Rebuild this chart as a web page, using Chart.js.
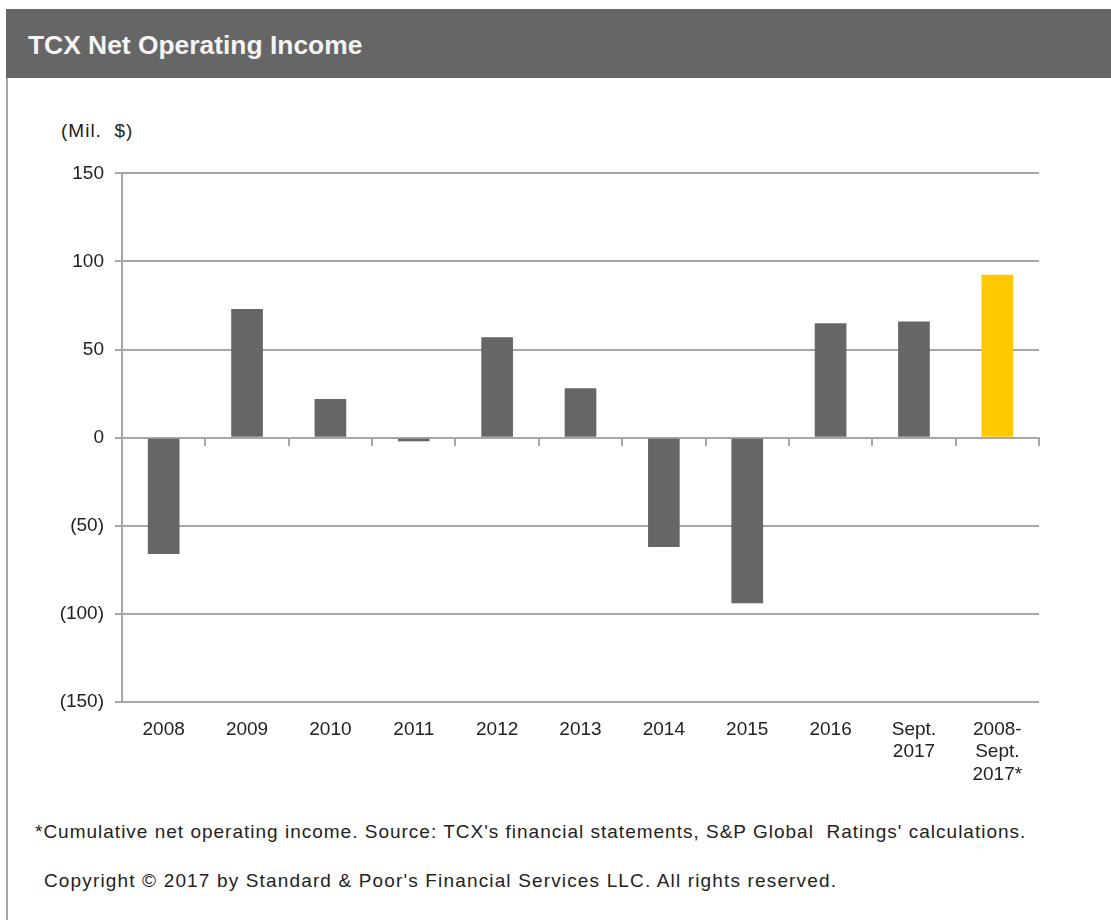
<!DOCTYPE html>
<html>
<head>
<meta charset="utf-8">
<script src="https://cdn.jsdelivr.net/npm/chart.js@4/dist/chart.umd.min.js"></script>
<style>
  html, body { margin: 0; padding: 0; background: #fff; }
  body { width: 1111px; height: 920px; position: relative; overflow: hidden; font-family: "Liberation Sans", Arial, sans-serif; }
  .frame { position: absolute; left: 6px; top: 9px; right: -4px; bottom: -4px; border: 2px solid #a6a6a6; border-top: none; }
  .title-bar { position: absolute; left: 6px; top: 9px; width: 1105px; height: 69px; background: #666666; }
  .title-bar h1 { margin: 0; position: absolute; left: 22px; top: 21px; font-size: 26.4px; font-weight: bold; color: #f4f4f4; }
  .unit { position: absolute; left: 61px; top: 120px; font-size: 19px; letter-spacing: 1px; color: #222; }
  .chart-wrap { position: absolute; left: 0; top: 151px; width: 1060px; height: 649px; }
  .note { position: absolute; font-size: 19px; letter-spacing: 1px; color: #222; white-space: nowrap; }
  #note1 { left: 35px; top: 821px; }
  #note2 { left: 44px; top: 870px; letter-spacing: 1.15px; }
</style>
</head>
<body>
  <div class="frame"></div>
  <div class="title-bar"><h1>TCX Net Operating Income</h1></div>
  <div class="unit">(Mil.&nbsp; $)</div>
  <div class="chart-wrap"><canvas id="chart"></canvas></div>
  <div class="note" id="note1">*Cumulative net operating income. Source: TCX's financial statements, S&amp;P Global&nbsp; Ratings' calculations.</div>
  <div class="note" id="note2">Copyright © 2017 by Standard &amp; Poor's Financial Services LLC. All rights reserved.</div>

<script>
  // categories (multi-line labels as arrays)
  const categories = ['2008', '2009', '2010', '2011', '2012', '2013', '2014', '2015', '2016',
    ['Sept.', '2017'], ['2008-', 'Sept.', '2017*']];
  // net operating income, mil. $
  const income = [-66, 73, 22, -2, 57, 28, -62, -94, 65, 66, 92.5];
  const barColors = ['#666666', '#666666', '#666666', '#666666', '#666666', '#666666',
    '#666666', '#666666', '#666666', '#666666', '#FFC800'];
  const yMin = -150, yMax = 150, yStep = 50;

  const GRID = '#a6a6a6';
  const TEXT = '#222222';
  const FONT = { family: '"Liberation Sans", Arial, sans-serif', size: 19 };

  function fmtTick(v) {
    return v < 0 ? `(${Math.abs(v)})` : `${v}`;
  }

  new Chart(document.getElementById('chart'), {
    type: 'bar',
    data: {
      labels: categories,
      datasets: [{
        data: income,
        backgroundColor: barColors,
        borderWidth: 0,
        barPercentage: 0.38,
        categoryPercentage: 1,
        xAxisID: 'x',
      }],
    },
    options: {
      responsive: true,
      maintainAspectRatio: false,
      animation: false,
      layout: { padding: { top: 4, right: 21, left: 0, bottom: 0 } },
      plugins: { legend: { display: false }, tooltip: { enabled: false } },
      scales: {
        x: {
          position: 'bottom',
          grid: { display: false, drawTicks: false },
          border: { display: false },
          ticks: { color: TEXT, font: FONT, padding: 16, maxRotation: 0, autoSkip: false },
          afterFit: s => { s.height = 98; },
        },
        // zero line with tick marks between categories
        x0: {
          type: 'category',
          position: { y: 0 },
          offset: true,
          grid: { display: true, drawOnChartArea: false, drawTicks: true, tickLength: 7, color: GRID, lineWidth: 2, offset: true },
          border: { display: true, color: GRID, width: 2 },
          ticks: { display: false },
        },
        y: {
          min: yMin,
          max: yMax,
          ticks: { stepSize: yStep, color: TEXT, font: FONT, padding: 11, callback: fmtTick },
          grid: { color: GRID, lineWidth: 2, tickLength: 7, drawTicks: true },
          border: { display: true, color: GRID, width: 2 },
          afterFit: s => { s.width = 122; },
        },
      },
    },
  });
</script>
</body>
</html>
